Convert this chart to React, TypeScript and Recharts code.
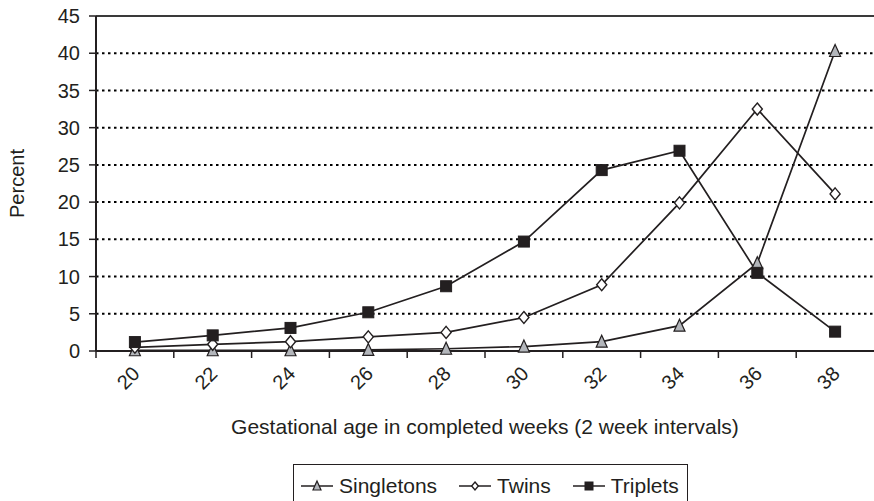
import React from 'react';
import {
  LineChart,
  Line,
  XAxis,
  YAxis,
  CartesianGrid,
  Legend,
  ReferenceLine,
} from 'recharts';

const weeks = ['20', '22', '24', '26', '28', '30', '32', '34', '36', '38'];
const singletons = [0.1, 0.1, 0.1, 0.15, 0.3, 0.6, 1.25, 3.4, 11.8, 40.3];
const twins = [0.5, 0.9, 1.25, 1.9, 2.5, 4.5, 8.9, 19.9, 32.5, 21.1];
const triplets = [1.2, 2.1, 3.1, 5.2, 8.7, 14.7, 24.3, 26.9, 10.5, 2.6];
const yTicks = [0, 5, 10, 15, 20, 25, 30, 35, 40, 45];

const data = weeks.map((w, i) => ({
  week: w,
  singletons: singletons[i],
  twins: twins[i],
  triplets: triplets[i],
}));

const INK = '#231f20';
const FONT = '"Liberation Sans", Arial, sans-serif';
const HALF_BAND = 38.9;

const TriangleMark = ({ cx, cy, s = 11 }: { cx: number; cy: number; s?: number }) => (
  <path
    d={`M${cx},${cy - s / 2 - 1} L${cx + s / 2},${cy + s / 2} L${cx - s / 2},${cy + s / 2} Z`}
    fill="#b3b6bb"
    stroke={INK}
    strokeWidth={1.2}
  />
);

const DiamondMark = ({ cx, cy, s = 12 }: { cx: number; cy: number; s?: number }) => (
  <path
    d={`M${cx},${cy - s / 2} L${cx + s * 0.42},${cy} L${cx},${cy + s / 2} L${cx - s * 0.42},${cy} Z`}
    fill="#fff"
    stroke={INK}
    strokeWidth={1.4}
  />
);

const SquareMark = ({ cx, cy, s = 11 }: { cx: number; cy: number; s?: number }) => (
  <rect x={cx - s / 2} y={cy - s / 2} width={s} height={s} fill={INK} stroke={INK} strokeWidth={1} />
);

const marks: Record<string, any> = {
  singletons: TriangleMark,
  twins: DiamondMark,
  triplets: SquareMark,
};

const makeDot = (name: string) => (props: any) => {
  const M = marks[name];
  if (props.cx == null || props.cy == null) return <g key={`${name}-${props.index}`} />;
  return (
    <g key={`${name}-${props.index}`}>
      <M cx={props.cx} cy={props.cy} />
    </g>
  );
};

// tick marks sit between categories, labels are rotated under each point
const XTick = (props: any) => {
  const { x, y, payload } = props;
  return (
    <g>
      <line x1={x - HALF_BAND} y1={y} x2={x - HALF_BAND} y2={y + 7} stroke={INK} strokeWidth={1.5} />
      <text
        x={x + 6}
        y={y + 24}
        textAnchor="end"
        transform={`rotate(-45, ${x + 6}, ${y + 24})`}
        fontSize={20}
        fontFamily={FONT}
        fill={INK}
      >
        {payload.value}
      </text>
    </g>
  );
};

const legendItems = [
  { key: 'singletons', label: 'Singletons' },
  { key: 'twins', label: 'Twins' },
  { key: 'triplets', label: 'Triplets' },
];

const LegendBox = () => (
  <div
    style={{
      display: 'flex',
      alignItems: 'center',
      border: `1.5px solid ${INK}`,
      borderBottom: 'none',
      height: 37,
      boxSizing: 'border-box',
      padding: '6px 8px 0 7px',
      fontFamily: FONT,
      fontSize: 21,
      color: INK,
      whiteSpace: 'nowrap',
    }}
  >
    {legendItems.map((it, i) => {
      const M = marks[it.key];
      return (
        <div key={it.key} style={{ display: 'flex', alignItems: 'center', marginRight: i < 2 ? 22 : 0 }}>
          <svg width={32} height={14} style={{ marginRight: 6 }}>
            <line x1={0} y1={7} x2={32} y2={7} stroke={INK} strokeWidth={1.5} />
            <M cx={16} cy={7} s={8} />
          </svg>
          <span>{it.label}</span>
        </div>
      );
    })}
  </div>
);

export default function App() {
  return (
    <div style={{ position: 'absolute', left: 0, top: 0, width: 874, height: 501, overflow: 'hidden', background: '#fff' }}>
      <LineChart width={874} height={501} data={data} margin={{ top: 16, right: 0, left: 0, bottom: 60 }}>
        <CartesianGrid
          horizontal
          vertical={false}
          stroke="#000"
          strokeWidth={2}
          strokeDasharray="2.5 3.5"
        />
        <ReferenceLine y={45} stroke="#3a3a3a" strokeWidth={2} />
        <XAxis
          dataKey="week"
          height={90}
          padding={{ left: HALF_BAND, right: HALF_BAND }}
          tickLine={false}
          tickSize={0}
          tickMargin={0}
          axisLine={{ stroke: INK, strokeWidth: 2 }}
          tick={<XTick />}
          interval={0}
          label={{
            content: (p: any) => {
              const vb = p.viewBox;
              return (
                <text
                  x={vb.x + vb.width / 2}
                  y={vb.y + vb.height - 7}
                  textAnchor="middle"
                  fontSize={21}
                  fontFamily={FONT}
                  fill={INK}
                >
                  Gestational age in completed weeks (2 week intervals)
                </text>
              );
            },
          }}
        />
        <YAxis
          width={96}
          domain={[0, 45]}
          ticks={yTicks}
          interval={0}
          tickSize={7}
          tickMargin={9}
          tickLine={{ stroke: INK, strokeWidth: 1.5 }}
          axisLine={{ stroke: INK, strokeWidth: 2 }}
          tick={{ fontSize: 20, fontFamily: FONT, fill: INK }}
          label={{
            content: (p: any) => {
              const vb = p.viewBox;
              const cy = vb.y + vb.height / 2;
              return (
                <text
                  x={17}
                  y={cy}
                  textAnchor="middle"
                  dominantBaseline="central"
                  transform={`rotate(-90, 17, ${cy})`}
                  fontSize={20}
                  fontFamily={FONT}
                  fill={INK}
                >
                  Percent
                </text>
              );
            },
          }}
        />
        <Legend
          layout="horizontal"
          verticalAlign="middle"
          align="center"
          wrapperStyle={{ left: 293, top: 464, width: 'auto', height: 37 }}
          content={() => <LegendBox />}
        />
        <Line
          dataKey="singletons"
          stroke={INK}
          strokeWidth={1.7}
          dot={makeDot('singletons')}
          activeDot={false}
          isAnimationActive={false}
        />
        <Line
          dataKey="twins"
          stroke={INK}
          strokeWidth={1.7}
          dot={makeDot('twins')}
          activeDot={false}
          isAnimationActive={false}
        />
        <Line
          dataKey="triplets"
          stroke={INK}
          strokeWidth={1.7}
          dot={makeDot('triplets')}
          activeDot={false}
          isAnimationActive={false}
        />
      </LineChart>
    </div>
  );
}
